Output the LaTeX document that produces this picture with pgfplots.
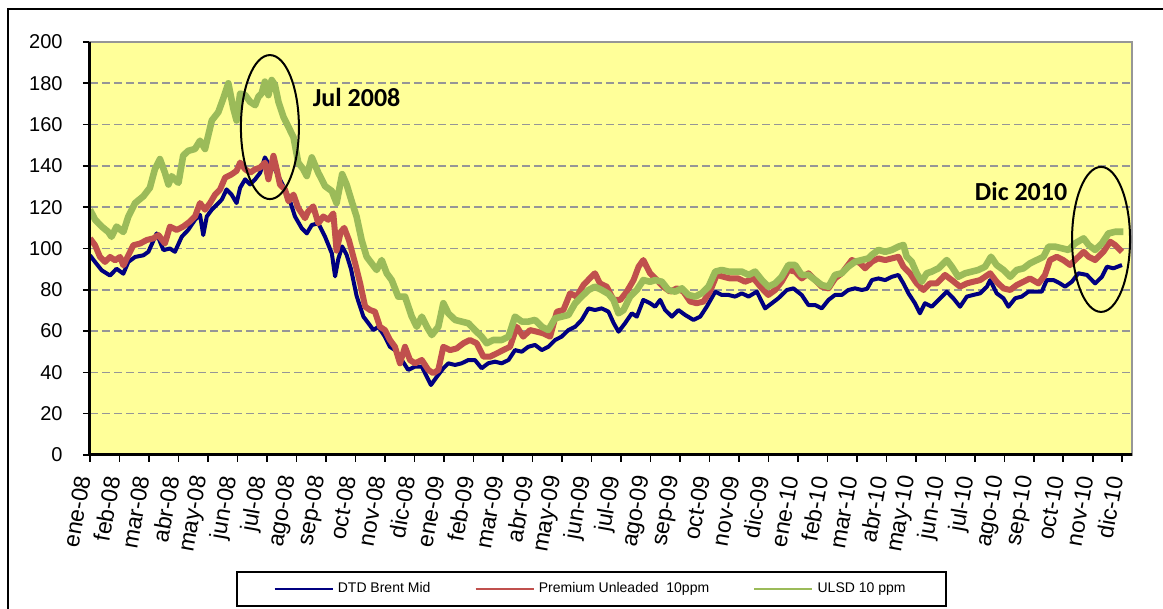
\documentclass[border=0pt]{standalone}
\usepackage{pgfplots}
\pgfplotsset{compat=1.18}
\usepackage{pgfplotstable}
\usepackage{fontspec}
\setmainfont{Liberation Sans}
\newfontfamily\calib{Carlito}

\definecolor{bgyellow}{HTML}{FFFF99}
\definecolor{gridgray}{HTML}{969696}
\definecolor{brentblue}{HTML}{000080}
\definecolor{gasred}{HTML}{C0504D}
\definecolor{ulsdgreen}{HTML}{9BBB59}

% x = months since ene-08, v = USD
\pgfplotstableread{
m v
0.00 96.7
0.17 93.5
0.40 89.4
0.68 86.9
0.90 90.2
1.13 87.8
1.30 93.5
1.53 95.9
1.81 96.7
1.98 98.4
2.26 107.3
2.49 99.2
2.71 100
2.88 98.4
3.11 105.7
3.33 109
3.56 113.9
3.73 116.3
3.84 106.5
3.96 115.5
4.13 118.8
4.30 121.2
4.47 123.7
4.63 128.6
4.80 126.1
4.97 122
5.09 129.4
5.26 133.5
5.43 131
5.60 133.5
5.77 136.7
5.93 144.1
6.10 140
6.27 138.4
6.50 131.8
6.73 125.3
6.95 115.5
7.18 109.8
7.35 107.3
7.52 111.4
7.74 112.2
7.97 105.7
8.20 97.6
8.31 86.5
8.42 95
8.55 101
8.70 97
8.85 90
9.04 77
9.27 67
9.44 63.8
9.61 60.5
9.78 62.1
10.00 57.3
10.17 52.4
10.34 50.8
10.57 46
10.79 41.2
11.02 42.8
11.25 42.8
11.42 37.9
11.56 33.9
11.76 37.9
11.98 42
12.15 44.4
12.38 43.6
12.60 44.4
12.83 46
13.05 46
13.28 42
13.50 44.4
13.73 45.2
13.96 44.4
14.19 46
14.41 50.8
14.64 50
14.86 52.4
15.09 53.3
15.32 50.8
15.54 52.4
15.77 55.7
15.99 57.3
16.22 60.5
16.45 62.1
16.67 65.4
16.90 71
17.12 70.2
17.35 71
17.58 69.4
17.75 64
17.92 59.7
18.14 63.8
18.37 68.6
18.54 67
18.76 75.1
18.99 73.5
19.16 71.8
19.33 75.1
19.50 70.2
19.73 67
19.95 70.2
20.18 67.8
20.46 65.4
20.69 67
20.91 71.8
21.20 79.1
21.42 77.5
21.65 77.5
21.87 76.7
22.10 78.3
22.33 76.7
22.61 79.1
22.89 71
23.12 73.5
23.34 75.9
23.63 79.9
23.85 80.7
24.13 77.5
24.36 72.6
24.59 72.6
24.81 71
25.04 75.1
25.26 77.5
25.49 77.5
25.71 79.9
25.94 80.7
26.17 79.9
26.35 80.5
26.51 84.7
26.73 85.5
26.96 84.7
27.19 86.3
27.41 87.2
27.58 83.1
27.75 78.3
27.97 73.5
28.14 68.6
28.31 73.5
28.54 71.8
28.77 75.1
29.05 79.1
29.27 75.9
29.50 71.8
29.73 76.7
29.95 77.5
30.18 78.3
30.41 81.5
30.52 84.7
30.74 78.3
30.97 75.9
31.14 71.8
31.37 75.9
31.59 76.7
31.82 79.1
32.04 79.1
32.27 79.1
32.44 84.7
32.67 84.7
32.89 83.1
33.06 81.5
33.29 83.9
33.51 88
33.80 87.2
34.08 83.1
34.31 86.3
34.48 91.2
34.70 90.4
34.99 92
}\brent

\pgfplotstableread{
m v
0.00 104.9
0.17 101.6
0.34 95.9
0.51 93.5
0.68 95.9
0.85 94.3
1.02 95.9
1.13 91.8
1.30 96.7
1.47 101.6
1.70 102.4
1.92 104.1
2.15 104.9
2.32 106.5
2.54 102.4
2.71 110.6
2.94 109
3.16 110.6
3.39 113.1
3.56 115.5
3.73 122
3.90 118.8
4.07 122
4.24 126.1
4.41 128.6
4.58 134.3
4.80 135.9
4.97 137.6
5.09 141.6
5.26 138.4
5.43 136.7
5.60 138.4
5.77 139.2
5.93 141.6
6.05 133.5
6.22 144.9
6.33 138.4
6.44 131
6.61 128.6
6.73 122.9
6.90 126.1
7.06 119.6
7.29 114.7
7.40 118
7.57 120.4
7.74 112.2
7.91 115.5
8.08 113.9
8.25 117
8.36 99
8.50 108
8.62 110
8.78 104
8.99 92.8
9.16 83.1
9.33 71.8
9.50 70.2
9.66 69.4
9.83 62.1
10.00 60.5
10.17 55.7
10.34 52.4
10.51 44.4
10.68 52.4
10.85 46
11.02 44.4
11.25 46
11.47 41.2
11.64 39.6
11.81 41.2
11.98 52.4
12.21 50.8
12.43 51.6
12.66 54.1
12.88 55.7
13.11 54.1
13.34 47.6
13.56 47.6
13.79 49.2
14.01 50.8
14.24 52.4
14.47 62.1
14.69 57.3
14.92 60.5
15.15 59.7
15.37 58.9
15.60 57.3
15.83 69.4
16.05 70.2
16.28 78.3
16.50 76.7
16.73 82.3
16.95 85.6
17.12 88
17.29 83.1
17.52 81.5
17.75 75.1
17.98 75.1
18.20 79.1
18.43 84.7
18.60 91.2
18.76 94.4
18.99 88
19.22 84.7
19.44 81.5
19.67 79.1
19.90 80.7
20.12 79.1
20.35 74.3
20.57 73.5
20.80 74.3
21.02 79.1
21.25 87.2
21.48 86.3
21.70 85.5
21.98 85.5
22.21 83.9
22.50 85.5
22.78 80.7
23.00 77.5
23.23 79.9
23.45 83.9
23.68 89.6
23.91 88.8
24.13 85.5
24.36 88
24.59 84.7
24.81 81.5
25.04 80.7
25.26 85.5
25.49 88
25.83 94.4
26.10 93
26.28 90.4
26.51 93.6
26.73 95.2
26.96 94.4
27.19 95.2
27.41 96
27.58 91.2
27.80 88
28.03 83.1
28.26 79.9
28.48 83.1
28.71 83.1
28.99 87.2
29.22 84.7
29.50 81.5
29.73 83.1
29.95 83.9
30.18 84.7
30.52 88
30.74 83.9
30.97 80.7
31.20 79.9
31.42 82.3
31.65 83.9
31.87 85.5
32.16 83.1
32.38 87.2
32.55 94.4
32.78 96
33.00 94.4
33.23 92
33.40 94.4
33.69 98.4
33.86 96
34.08 94.4
34.36 98.4
34.59 103.3
34.76 101.7
34.99 98.4
}\premium

\pgfplotstableread{
m v
0.00 118.8
0.17 114
0.40 110.6
0.62 108
0.73 105.7
0.90 110.6
1.13 108
1.30 115.5
1.53 122
1.81 125.3
2.03 129.4
2.20 138.4
2.37 143.3
2.54 136.7
2.66 131
2.77 135
3.00 131.8
3.16 145
3.33 147.3
3.56 148.2
3.73 152.2
3.90 148.2
4.13 162
4.35 166
4.52 172.7
4.69 180
4.86 167.8
4.97 162
5.09 175
5.26 174.3
5.43 171
5.60 169.4
5.71 173.5
5.82 175.1
5.93 180.8
6.05 174.3
6.16 181.6
6.27 179.2
6.39 171
6.56 163.7
6.73 158.8
6.90 153.9
7.06 141.6
7.23 138.4
7.35 135.1
7.52 144.1
7.74 136.7
7.97 130.2
8.20 127.8
8.36 122
8.55 136
8.70 131
8.87 123
9.04 115.4
9.21 104.1
9.38 96
9.55 92.8
9.72 89.6
9.89 94.4
10.06 88
10.23 84.7
10.45 76.7
10.68 76.7
10.91 67
11.08 62.1
11.25 67
11.42 62.1
11.59 58.1
11.81 62.1
11.98 73.5
12.15 68.6
12.38 65.4
12.60 64.6
12.83 63.8
13.05 60.5
13.28 57.3
13.45 54.1
13.67 55.7
13.96 55.7
14.19 57.3
14.41 67
14.64 64.6
14.86 64.6
15.09 65.4
15.32 62.1
15.54 60.5
15.77 66.2
15.99 67
16.22 67.8
16.45 73.5
16.67 76.7
16.90 79.9
17.12 81.5
17.35 79.9
17.58 78
17.75 75.1
17.92 68.6
18.09 70.2
18.31 76.7
18.54 79.9
18.76 84.7
18.99 83.9
19.16 84.7
19.39 83.9
19.61 79.9
19.84 79.1
20.07 80.7
20.29 77.5
20.52 76.7
20.74 78.3
20.97 81.5
21.20 88.8
21.42 89.6
21.65 88.8
21.87 88.8
22.10 88.8
22.33 87.2
22.55 88.8
22.78 84.7
23.00 81.5
23.23 83.1
23.45 86.3
23.68 92
23.91 92
24.13 87.2
24.36 87.2
24.59 84.7
24.81 82.3
25.04 81.5
25.26 87.2
25.49 88
25.71 91.2
25.94 93.6
26.17 94.4
26.39 95.2
26.51 96.9
26.73 99.3
26.96 98.4
27.19 99.3
27.41 100.9
27.58 101.7
27.69 96
27.86 93.6
28.03 88
28.20 83.9
28.37 88
28.54 88.8
28.77 90.4
29.05 94.4
29.22 91.2
29.44 86.3
29.67 88
29.90 88.8
30.12 89.6
30.35 91.2
30.55 96
30.74 92
30.97 89.6
31.20 86.3
31.42 89.6
31.65 90.4
31.87 92.8
32.10 94.4
32.33 96
32.50 100.9
32.72 100.9
32.95 100.1
33.18 99.3
33.40 102.5
33.69 104.9
33.86 101.7
34.08 99.3
34.31 102.5
34.53 107.3
34.76 108.1
35.04 108.1
}\ulsd

\begin{document}
\begin{tikzpicture}
\path[use as bounding box] (-45pt,-77pt) rectangle (536.5pt,227.5pt);
% outer chart frame (cropped at right and bottom)
\draw[line width=1.2pt] (536.5pt,223pt) -- (-41pt,223pt) -- (-41pt,-77pt);
\begin{axis}[
  at={(0pt,0pt)}, anchor=south west,
  scale only axis, width=521pt, height=206.5pt,
  xmin=0, xmax=35.33, ymin=0, ymax=200,
  xtick={0,...,35},
  xticklabels={ene-08,feb-08,mar-08,abr-08,may-08,jun-08,jul-08,ago-08,sep-08,oct-08,nov-08,dic-08,
               ene-09,feb-09,mar-09,abr-09,may-09,jun-09,jul-09,ago-09,sep-09,oct-09,nov-09,dic-09,
               ene-10,feb-10,mar-10,abr-10,may-10,jun-10,jul-10,ago-10,sep-10,oct-10,nov-10,dic-10},
  ytick={0,20,...,200},
  ymajorgrids,
  grid style={gridgray, line width=0.8pt, dash pattern=on 4pt off 2pt},
  axis background/.style={fill=bgyellow},
  axis line style={gridgray, line width=1pt},
  tick align=outside,
  xtick pos=left, ytick pos=left,
  major tick length=3.5pt,
  tick style={black, line width=0.8pt},
  tick label style={font=\fontsize{10}{12}\selectfont},
  /pgf/number format/assume math mode=true,
  yticklabel style={anchor=east, inner sep=0pt, xshift=-10pt},
  % shifts first, so they act on the page and not along the rotated text
  xticklabel style={xshift=-3.5pt, yshift=-7pt, rotate=80, anchor=east, inner sep=0pt,
    font=\fontsize{11.5}{13}\selectfont},
  legend columns=3,
  legend cell align=left,
  legend style={at={(0.4813,-0.3245)}, anchor=center, draw=black, line width=1pt,
    fill=white, font=\fontsize{7}{8.5}\selectfont, inner xsep=18pt, inner ysep=3pt,
    /tikz/every even column/.append style={column sep=20pt}},
  legend image code/.code={\draw[#1, line width=1.2pt] (0pt,0pt) -- (29pt,0pt);},
  clip mode=individual,
]
\addplot[brentblue, line width=2pt, line join=round] table[x=m, y=v] {\brent};
\addlegendentry{DTD Brent Mid}
\addplot[gasred, line width=3pt, line join=round] table[x=m, y=v] {\premium};
\addlegendentry{Premium Unleaded\ \ 10ppm}
\addplot[ulsdgreen, line width=3.3pt, line join=round] table[x=m, y=v] {\ulsd};
\addlegendentry{ULSD 10 ppm}

\draw[black, line width=1.5pt] (rel axis cs:0,1) -- (rel axis cs:0,0) -- (rel axis cs:1,0);

\draw[line width=1pt] (axis cs:6.10,158.8) ellipse [x radius=14.5pt, y radius=36pt];
\draw[line width=1pt] (axis cs:34.28,104.4) ellipse [x radius=14.5pt, y radius=36.25pt];
\node[font=\calib\bfseries\fontsize{13}{15}\selectfont] at (axis cs:9.04,172.9) {Jul 2008};
\node[font=\calib\bfseries\fontsize{13}{15}\selectfont] at (axis cs:31.57,127.8) {Dic 2010};
\end{axis}
\end{tikzpicture}
\end{document}
